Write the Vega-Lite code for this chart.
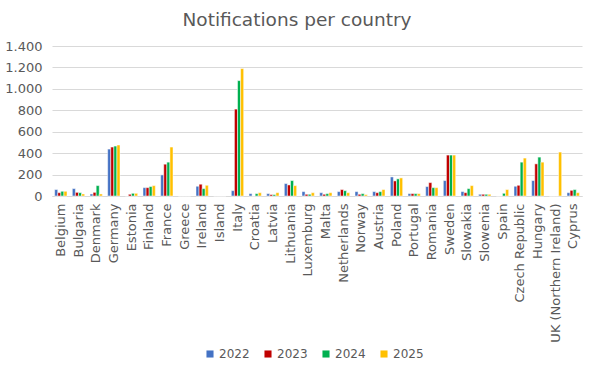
{
  "$schema": "https://vega.github.io/schema/vega-lite/v6.json",
  "width": 530,
  "height": 150,
  "autosize": {"type": "none"},
  "padding": {"left": 52, "top": 46, "right": 12, "bottom": 183},
  "background": "white",
  "title": {"text": "Notifications per country", "fontSize": 18.5, "font": "DejaVu Sans", "fontWeight": "normal", "color": "#595959", "anchor": "middle", "dx": -20, "offset": 11},
  "config": {"view": {"stroke": null}, "font": "DejaVu Sans"},
  "datasets": {
    "wide": [
      {"c": "Belgium", "a": 60, "b": 31, "g": 44, "y": 44},
      {"c": "Bulgaria", "a": 69, "b": 34, "g": 31, "y": 19},
      {"c": "Denmark", "a": 19, "b": 34, "g": 97, "y": 19},
      {"c": "Germany", "a": 438, "b": 457, "g": 466, "y": 476},
      {"c": "Estonia", "a": 0, "b": 16, "g": 25, "y": 25},
      {"c": "Finland", "a": 78, "b": 78, "g": 88, "y": 97},
      {"c": "France", "a": 197, "b": 297, "g": 316, "y": 457},
      {"c": "Greece", "a": 0, "b": 0, "g": 0, "y": 0},
      {"c": "Ireland", "a": 91, "b": 110, "g": 69, "y": 100},
      {"c": "Island", "a": 0, "b": 0, "g": 0, "y": 0},
      {"c": "Italy", "a": 50, "b": 811, "g": 1077, "y": 1189},
      {"c": "Croatia", "a": 22, "b": 0, "g": 22, "y": 31},
      {"c": "Latvia", "a": 22, "b": 13, "g": 13, "y": 31},
      {"c": "Lithuania", "a": 116, "b": 103, "g": 144, "y": 97},
      {"c": "Luxemburg", "a": 41, "b": 16, "g": 16, "y": 31},
      {"c": "Malta", "a": 31, "b": 16, "g": 22, "y": 31},
      {"c": "Netherlands", "a": 41, "b": 60, "g": 50, "y": 31},
      {"c": "Norway", "a": 41, "b": 16, "g": 22, "y": 13},
      {"c": "Austria", "a": 41, "b": 31, "g": 41, "y": 60},
      {"c": "Poland", "a": 178, "b": 141, "g": 160, "y": 169},
      {"c": "Portugal", "a": 22, "b": 22, "g": 22, "y": 22},
      {"c": "Romania", "a": 88, "b": 125, "g": 78, "y": 78},
      {"c": "Sweden", "a": 144, "b": 382, "g": 382, "y": 382},
      {"c": "Slowakia", "a": 41, "b": 31, "g": 69, "y": 97},
      {"c": "Slowenia", "a": 16, "b": 16, "g": 16, "y": 16},
      {"c": "Spain", "a": 0, "b": 0, "g": 25, "y": 60},
      {"c": "Czech Republic", "a": 91, "b": 100, "g": 316, "y": 354},
      {"c": "Hungary", "a": 144, "b": 300, "g": 363, "y": 316},
      {"c": "UK (Northern Ireland)", "a": 0, "b": 0, "g": 0, "y": 410},
      {"c": "Cyprus", "a": 31, "b": 53, "g": 60, "y": 31}
    ]
  },
  "data": {"name": "wide"},
  "transform": [
    {"fold": ["a", "b", "g", "y"], "as": ["k", "value"]},
    {"lookup": "k", "from": {"data": {"values": [{"k": "a", "year": "2022"}, {"k": "b", "year": "2023"}, {"k": "g", "year": "2024"}, {"k": "y", "year": "2025"}]}, "key": "k", "fields": ["year"]}}
  ],
  "mark": {"type": "bar", "stroke": "white", "strokeWidth": 0.5},
  "encoding": {
    "x": {
      "field": "c", "type": "nominal", "sort": null, "title": null,
      "scale": {"paddingInner": 0.3, "paddingOuter": 0.15},
      "axis": {"labelAngle": -90, "labelFontSize": 13, "labelColor": "#595959", "ticks": false, "domainColor": "#D9D9D9", "labelPadding": 7}
    },
    "xOffset": {"field": "year", "type": "nominal"},
    "y": {
      "field": "value", "type": "quantitative", "title": null,
      "scale": {"domain": [0, 1400], "nice": false},
      "axis": {"values": [0, 200, 400, 600, 800, 1000, 1200, 1400], "labelExpr": "replace(format(datum.value, ','), ',', '.')", "labelFontSize": 13, "labelColor": "#595959", "domain": false, "ticks": false, "gridColor": "#D9D9D9", "labelPadding": 10}
    },
    "color": {
      "field": "year", "type": "nominal", "title": null,
      "scale": {"domain": ["2022", "2023", "2024", "2025"], "range": ["#4472C4", "#C00000", "#00B050", "#FFC000"]},
      "legend": {"orient": "none", "legendX": 152, "legendY": 302, "direction": "horizontal", "symbolType": "square", "symbolSize": 50, "symbolStrokeWidth": 0, "labelFontSize": 12, "labelColor": "#595959", "columnPadding": 12, "labelOffset": 3}
    }
  }
}
